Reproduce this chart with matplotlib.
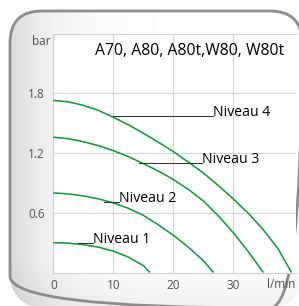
import numpy as np
import matplotlib
matplotlib.use("Agg")
import matplotlib.pyplot as plt
from matplotlib.patches import FancyBboxPatch

plt.rcParams['font.family'] = ['Open Sans', 'DejaVu Sans']

# pump curves: flow (l/min) -> pressure (bar)
q_n1 = [0, 2.5, 5, 7.5, 10, 12.5, 15, 16.1]
h_n1 = [0.30, 0.295, 0.28, 0.255, 0.215, 0.155, 0.07, 0.0]

q_n2 = [0, 2.5, 5, 7.5, 10, 12.5, 15, 17.5, 20, 22.5, 25, 26.7]
h_n2 = [0.80, 0.79, 0.77, 0.74, 0.70, 0.645, 0.575, 0.48, 0.375, 0.255, 0.12, 0.0]

q_n3 = [0, 2.5, 5, 7.5, 10, 12.5, 15, 17.5, 20, 22.5, 25, 27.5, 30, 32.5, 35]
h_n3 = [1.36, 1.345, 1.315, 1.275, 1.225, 1.165, 1.095, 1.02, 0.935, 0.835, 0.72, 0.57, 0.40, 0.21, 0.0]

q_n4 = [0, 2.5, 5, 7.5, 10, 12.5, 15, 17.5, 20, 22.5, 25, 27.5, 30, 32.5, 35, 37.5, 39.7]
h_n4 = [1.73, 1.715, 1.68, 1.63, 1.56, 1.485, 1.40, 1.31, 1.215, 1.11, 1.00, 0.875, 0.74, 0.595, 0.43, 0.235, 0.0]

labels = ['Niveau 1', 'Niveau 2', 'Niveau 3', 'Niveau 4']
series = [(q_n1, h_n1), (q_n2, h_n2), (q_n3, h_n3), (q_n4, h_n4)]

x_ticks = [0, 10, 20, 30]
y_ticks = [0.6, 1.2, 1.8]
title = 'A70, A80, A80t,W80, W80t'

# leader line layout: start on curve, where text begins, height
lead_start = [4.1, 8.4, 14.3, 10.0]
lead_end = [6.7, 11.0, 24.8, 26.6]
lead_h = [0.30, 0.71, 1.105, 1.573]

W, H = 299, 306
fig = plt.figure(figsize=(W / 100, H / 100), dpi=100)

# rounded panel with soft grey gradient
bx0, by0, bx1, by1, rad = 10, 11, 302, 308, 32
bg = fig.add_axes([0, 0, 1, 1])
bg.axis('off')
xx, yy = np.meshgrid(np.arange(W) + 0.5, np.arange(H) + 0.5)
shade = 1 - 0.15 * np.exp(-(xx - bx0) / 40.0) - 0.05 * np.clip((yy - 260) / 46.0, 0, 1)
shade = np.clip(shade, 0, 1)
# mask of the rounded rectangle
cx = np.clip(xx, bx0 + rad, bx1 - rad)
cy = np.clip(yy, by0 + rad, by1 - rad)
inside = ((xx - cx) ** 2 + (yy - cy) ** 2 <= rad ** 2) & (xx >= bx0) & (xx <= bx1) & (yy >= by0) & (yy <= by1)
rgba = np.ones((H, W, 4))
rgba[..., 0] = shade
rgba[..., 1] = shade
rgba[..., 2] = shade
rgba[..., 3] = inside.astype(float)
bg.imshow(rgba, extent=(0, W, H, 0), zorder=0, interpolation='nearest')
bg.set_xlim(0, W)
bg.set_ylim(H, 0)
box = FancyBboxPatch((bx0, by0), bx1 - bx0, by1 - by0,
                     boxstyle='round,pad=0,rounding_size=%d' % rad,
                     facecolor='none', edgecolor='#8c8c8c', linewidth=2.0, zorder=2)
bg.add_patch(box)

ax = fig.add_axes([53.3 / W, (H - 272.5) / H, (296 - 53.3) / W, (272.5 - 34) / H])
ax.set_facecolor('white')
ax.set_xlim(0, 40.45)
ax.set_ylim(0, 2.397)

for q, h in series:
    ax.plot(q, h, color='#17983f', linewidth=1.15, solid_capstyle='butt', zorder=3)

for name, s, e, hv in zip(labels, lead_start, lead_end, lead_h):
    ax.plot([s, e], [hv, hv], color='#333333', linewidth=0.75, zorder=4)
    ax.text(e, hv, name, fontsize=10.2, color='black', ha='left', va='baseline', zorder=5)

ax.text(6.9, 2.19, title, fontsize=11.3, color='black', ha='left', va='baseline')

ax.set_xticks(x_ticks)
ax.set_yticks(y_ticks)
ax.set_yticklabels(['%.1f' % v for v in y_ticks])
ax.grid(True, color='#d4d4d4', linewidth=0.8)
ax.set_axisbelow(True)
ax.tick_params(length=0, labelsize=8.5, labelcolor='#505050')
ax.tick_params(axis='x', pad=5)
ax.tick_params(axis='y', pad=6)
for side in ['left', 'bottom', 'top']:
    ax.spines[side].set_color('#cfcfcf')
    ax.spines[side].set_linewidth(0.8)
ax.spines['right'].set_visible(False)

ax.text(-0.012, 2.32, 'bar', transform=ax.get_yaxis_transform(), fontsize=8.5,
        color='#505050', ha='right', va='center')
ax.text(38.0, -0.125, 'l/min', fontsize=8.5, color='#505050', ha='center', va='center',
        clip_on=False)

fig.savefig('out.png', dpi=100)
